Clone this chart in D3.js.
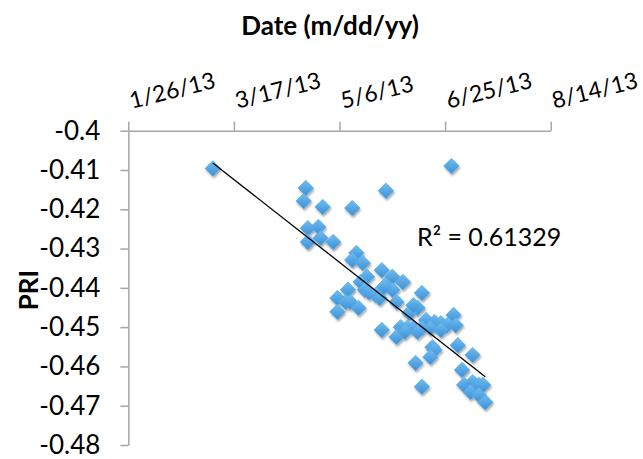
<!DOCTYPE html>
<html>
<head>
<meta charset="utf-8">
<script src="https://cdn.jsdelivr.net/npm/d3@7"></script>
<style>
  html, body { margin: 0; padding: 0; background: #fff; }
  svg { display: block; font-family: Lato, "Open Sans", sans-serif; }
</style>
</head>
<body>
<svg id="chart" width="643" height="459"></svg>
<script>
// ---- data ----
const xTickLabels = ["1/26/13", "3/17/13", "5/6/13", "6/25/13", "8/14/13"];
const yTickValues = [-0.4, -0.41, -0.42, -0.43, -0.44, -0.45, -0.46, -0.47, -0.48];
const yTickLabels = ["-0.4", "-0.41", "-0.42", "-0.43", "-0.44", "-0.45", "-0.46", "-0.47", "-0.48"];

const dates = [
  "3/7/13", "4/20/13", "4/19/13", "4/28/13", "5/12/13", "5/28/13", "6/28/13",
  "4/21/13", "4/26/13", "4/21/13", "4/27/13", "5/3/13", "5/14/13", "5/12/13",
  "5/17/13", "5/19/13", "5/16/13", "5/26/13", "5/31/13", "5/28/13", "5/10/13",
  "5/5/13", "5/9/13", "5/11/13", "5/15/13", "5/5/13", "5/18/13", "5/20/13",
  "5/23/13", "5/25/13", "5/31/13", "6/5/13", "5/27/13", "6/2/13", "6/14/13",
  "6/12/13", "6/8/13", "5/26/13", "6/4/13", "6/7/13", "6/10/13", "6/16/13",
  "6/20/13", "6/23/13", "6/26/13", "6/29/13", "6/30/13", "6/14/13", "6/2/13",
  "6/19/13", "7/1/13", "6/6/13", "6/12/13", "6/18/13", "6/23/13", "6/20/13",
  "6/18/13", "6/11/13", "7/8/13", "7/3/13", "6/14/13", "7/4/13", "7/8/13",
  "7/11/13", "7/13/13", "7/7/13", "7/11/13", "7/14/13", "6/10/13"
];
const pri = [
  -0.4096, -0.4146, -0.4179, -0.4194, -0.4197, -0.4153, -0.4090,
  -0.4248, -0.4245, -0.4283, -0.4273, -0.4283, -0.4311, -0.4329,
  -0.4337, -0.4372, -0.4385, -0.4355, -0.4372, -0.4393, -0.4405,
  -0.4426, -0.4436, -0.4436, -0.4451, -0.4461, -0.4405, -0.4411,
  -0.4418, -0.4426, -0.4405, -0.4385, -0.4398, -0.4436, -0.4413,
  -0.4451, -0.4464, -0.4507, -0.4500, -0.4502, -0.4502, -0.4482,
  -0.4487, -0.4490, -0.4495, -0.4469, -0.4495, -0.4502, -0.4525,
  -0.4551, -0.4546, -0.4512, -0.4512, -0.4502, -0.4507, -0.4558,
  -0.4576, -0.4591, -0.4571, -0.4609, -0.4652, -0.4647, -0.4640,
  -0.4647, -0.4647, -0.4665, -0.4673, -0.4691, -0.4444
];
// linear trendline spanning first to last date
const trendDates = ["3/7/13", "7/14/13"];
const trendValues = [-0.4082, -0.4626];
const rSquaredLabel = "R² = 0.61329";
const xTitle = "Date (m/dd/yy)";
const yTitle = "PRI";

// ---- helpers ----
const parse = s => { const [m, d, y] = s.split("/").map(Number); return new Date(2000 + y, m - 1, d); };

const svg = d3.select("#chart");
const x = d3.scaleTime().domain([parse(xTickLabels[0]), parse(xTickLabels[xTickLabels.length - 1])]).range([128.3, 550.7]);
const y = d3.scaleLinear().domain([-0.48, -0.4]).range([445, 130.7]);

const defs = svg.append("defs");
const grad = defs.append("linearGradient").attr("id", "mk").attr("x1", 0).attr("y1", 0).attr("x2", 1).attr("y2", 1);
grad.append("stop").attr("offset", "0%").attr("stop-color", "#72bdf0");
grad.append("stop").attr("offset", "100%").attr("stop-color", "#3a90d6");
const f = defs.append("filter").attr("id", "sh").attr("x", "-50%").attr("y", "-50%").attr("width", "200%").attr("height", "200%");
f.append("feDropShadow").attr("dx", 1).attr("dy", 2).attr("stdDeviation", 1.3).attr("flood-color", "#000").attr("flood-opacity", 0.35);

const axisColor = "#a6a6a6";

// x axis (top)
const xAxis = d3.axisTop(x)
  .tickValues(xTickLabels.map(parse))
  .tickFormat((d, i) => xTickLabels[i])
  .tickSizeInner(9).tickSizeOuter(0);
const gx = svg.append("g").attr("transform", `translate(0,${y(-0.4)})`).call(xAxis);
gx.select(".domain").attr("stroke", axisColor).attr("stroke-width", 1.5);
gx.selectAll(".tick line").attr("stroke", axisColor).attr("stroke-width", 1.5);
gx.selectAll(".tick text")
  .attr("fill", "#000").attr("font-size", 23).attr("font-family", "Lato, sans-serif")
  .attr("text-anchor", "start").attr("x", 0).attr("y", 0).attr("dy", 0)
  .attr("transform", "translate(3,-22) rotate(-14)");

// y axis (left)
const yAxis = d3.axisLeft(y)
  .tickValues(yTickValues)
  .tickFormat((d, i) => yTickLabels[i])
  .tickSizeInner(8).tickSizeOuter(0).tickPadding(20);
const gy = svg.append("g").attr("transform", `translate(${x(parse(xTickLabels[0]))},0)`).call(yAxis);
gy.select(".domain").attr("stroke", axisColor).attr("stroke-width", 1.5);
gy.selectAll(".tick line").attr("stroke", axisColor).attr("stroke-width", 1.5);
gy.selectAll(".tick text").attr("fill", "#000").attr("font-size", 26).attr("font-family", "Lato, sans-serif");

// titles
svg.append("text").attr("x", 330).attr("y", 35).attr("text-anchor", "middle")
  .attr("font-size", 26).attr("font-weight", "bold").text(xTitle);
svg.append("text").attr("transform", "translate(38,290) rotate(-90)").attr("text-anchor", "middle")
  .attr("font-size", 26).attr("font-weight", "bold").text(yTitle);

// points
const pts = dates.map((d, i) => ({ date: parse(d), v: pri[i] }));
const sym = d3.symbol().type(d3.symbolSquare).size(120);
svg.append("g").attr("filter", "url(#sh)")
  .selectAll("path").data(pts).join("path")
  .attr("d", sym)
  .attr("transform", d => `translate(${x(d.date)},${y(d.v)}) rotate(45)`)
  .attr("fill", "url(#mk)")
  .attr("stroke", "#4fa6e6").attr("stroke-width", 0.6);

// trendline
const line = d3.line().x(d => x(d[0])).y(d => y(d[1]));
svg.append("path")
  .datum(trendDates.map((d, i) => [parse(d), trendValues[i]]))
  .attr("d", line).attr("fill", "none").attr("stroke", "#000").attr("stroke-width", 1.3);

// R² label
svg.append("text").attr("x", 417).attr("y", 246).attr("font-size", 25).text(rSquaredLabel);
</script>
</body>
</html>
